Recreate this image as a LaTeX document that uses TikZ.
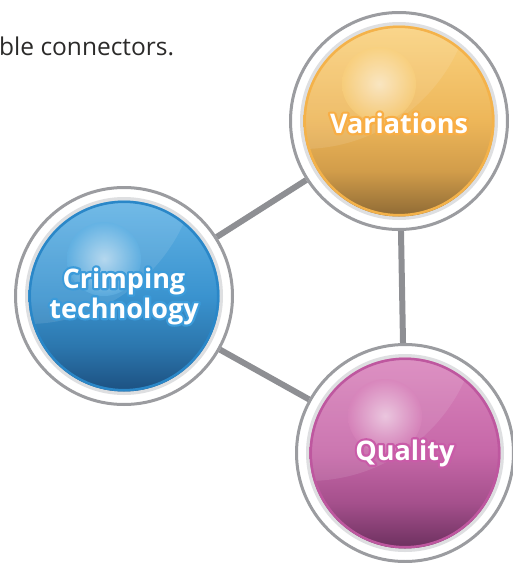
\documentclass[tikz,border=0pt]{standalone}
\usepackage{fontspec}
\setmainfont{Open Sans}
\usetikzlibrary{positioning}

\definecolor{ringgray}{HTML}{9B9CA0}
\definecolor{linkgray}{HTML}{8E8F93}
\definecolor{rimgray}{HTML}{DEDFE1}
\definecolor{textgray}{HTML}{2B2A29}
\definecolor{bluHi}{HTML}{62B3E5}
\definecolor{bluMd}{HTML}{3A93CF}
\definecolor{bluLw}{HTML}{2C77AE}
\definecolor{bluLo}{HTML}{1C5080}
\definecolor{bluRim}{HTML}{2A87C8}
\definecolor{bluHalo}{HTML}{3B9BDA}
\definecolor{oraHi}{HTML}{FAD27F}
\definecolor{oraMd}{HTML}{EDB659}
\definecolor{oraLw}{HTML}{D29D4A}
\definecolor{oraLo}{HTML}{8E6A35}
\definecolor{oraRim}{HTML}{F4B24A}
\definecolor{oraHalo}{HTML}{F8AE45}
\definecolor{pnkHi}{HTML}{D985BC}
\definecolor{pnkMd}{HTML}{C667A8}
\definecolor{pnkLw}{HTML}{A5508C}
\definecolor{pnkLo}{HTML}{6C305E}
\definecolor{pnkRim}{HTML}{BE579F}
\definecolor{pnkHalo}{HTML}{C95BA8}

\pgfdeclareverticalshading[ballHi,ballMd,ballLw,ballLo]{ball}{100bp}{color(0bp)=(ballLo); color(25bp)=(ballLo); color(37bp)=(ballLw); color(50bp)=(ballMd); color(75bp)=(ballHi); color(100bp)=(ballHi)}

% white word with a stroked coloured halo behind it
\newcommand\glow[2]{\rlap{\textcolor{#1}{\special{pdf:literal direct 2 Tr 4.5 w 1 j}#2\special{pdf:literal direct 0 Tr 1 w 0 j}}}#2}

\tikzset{
  ring/.style={circle, draw=ringgray, line width=3pt, fill=white, minimum size=217pt, inner sep=0pt},
  link/.style={linkgray, line width=6pt},
  word/.style={text=white, font=\bfseries\fontsize{27}{30}\selectfont, align=center, inner sep=0pt},
}

\begin{document}
\begin{tikzpicture}[x=1pt,y=-1pt]
	\useasboundingbox (0,0) rectangle (513,563);
	\node[anchor=base west, text=textgray, font=\fontsize{24.5}{28}\selectfont, inner sep=0pt] (intro) at (-1,55) {ble connectors.};
	
	% rings
	\node[ring] (crimp) at (124,296) {};
	\node[ring] (var) at (399,121) {};
	\node[ring] (qual) at (405,453) {};
	
	% links
	\draw[link] (crimp) -- (var);
	\draw[link] (crimp) -- (qual);
	\draw[link] (var) -- (qual);
	
	% balls
	\foreach \n/\c in {crimp/blu, var/ora, qual/pnk}{
		\colorlet{ballHi}{\c Hi}\colorlet{ballMd}{\c Md}\colorlet{ballLw}{\c Lw}\colorlet{ballLo}{\c Lo}
		\fill[rimgray] (\n) circle (99);
		\shade[shading=ball] (\n) circle (95.5);
		\draw[\c Rim, line width=2.5pt] (\n) circle (94.2);
		\begin{scope}
			\clip (\n) circle (93);
			\fill[white, opacity=.1, shift={(\n)}] (-97,-144) circle (172);
		\end{scope}
		\shade[inner color=white, outer color=\c Hi, opacity=.55, shift={(\n)}] (-20,-37) circle (37);
	}
	
	% labels
	\node[word] (crimp-text) at (crimp) {\glow{bluHalo}{Crimping}\\\glow{bluHalo}{technology}};
	\node[word] (var-text) at ([yshift=-2]var) {\glow{oraHalo}{Variations}};
	\node[word] (qual-text) at (qual) {\glow{pnkHalo}{Quality}};
\end{tikzpicture}
\end{document}
